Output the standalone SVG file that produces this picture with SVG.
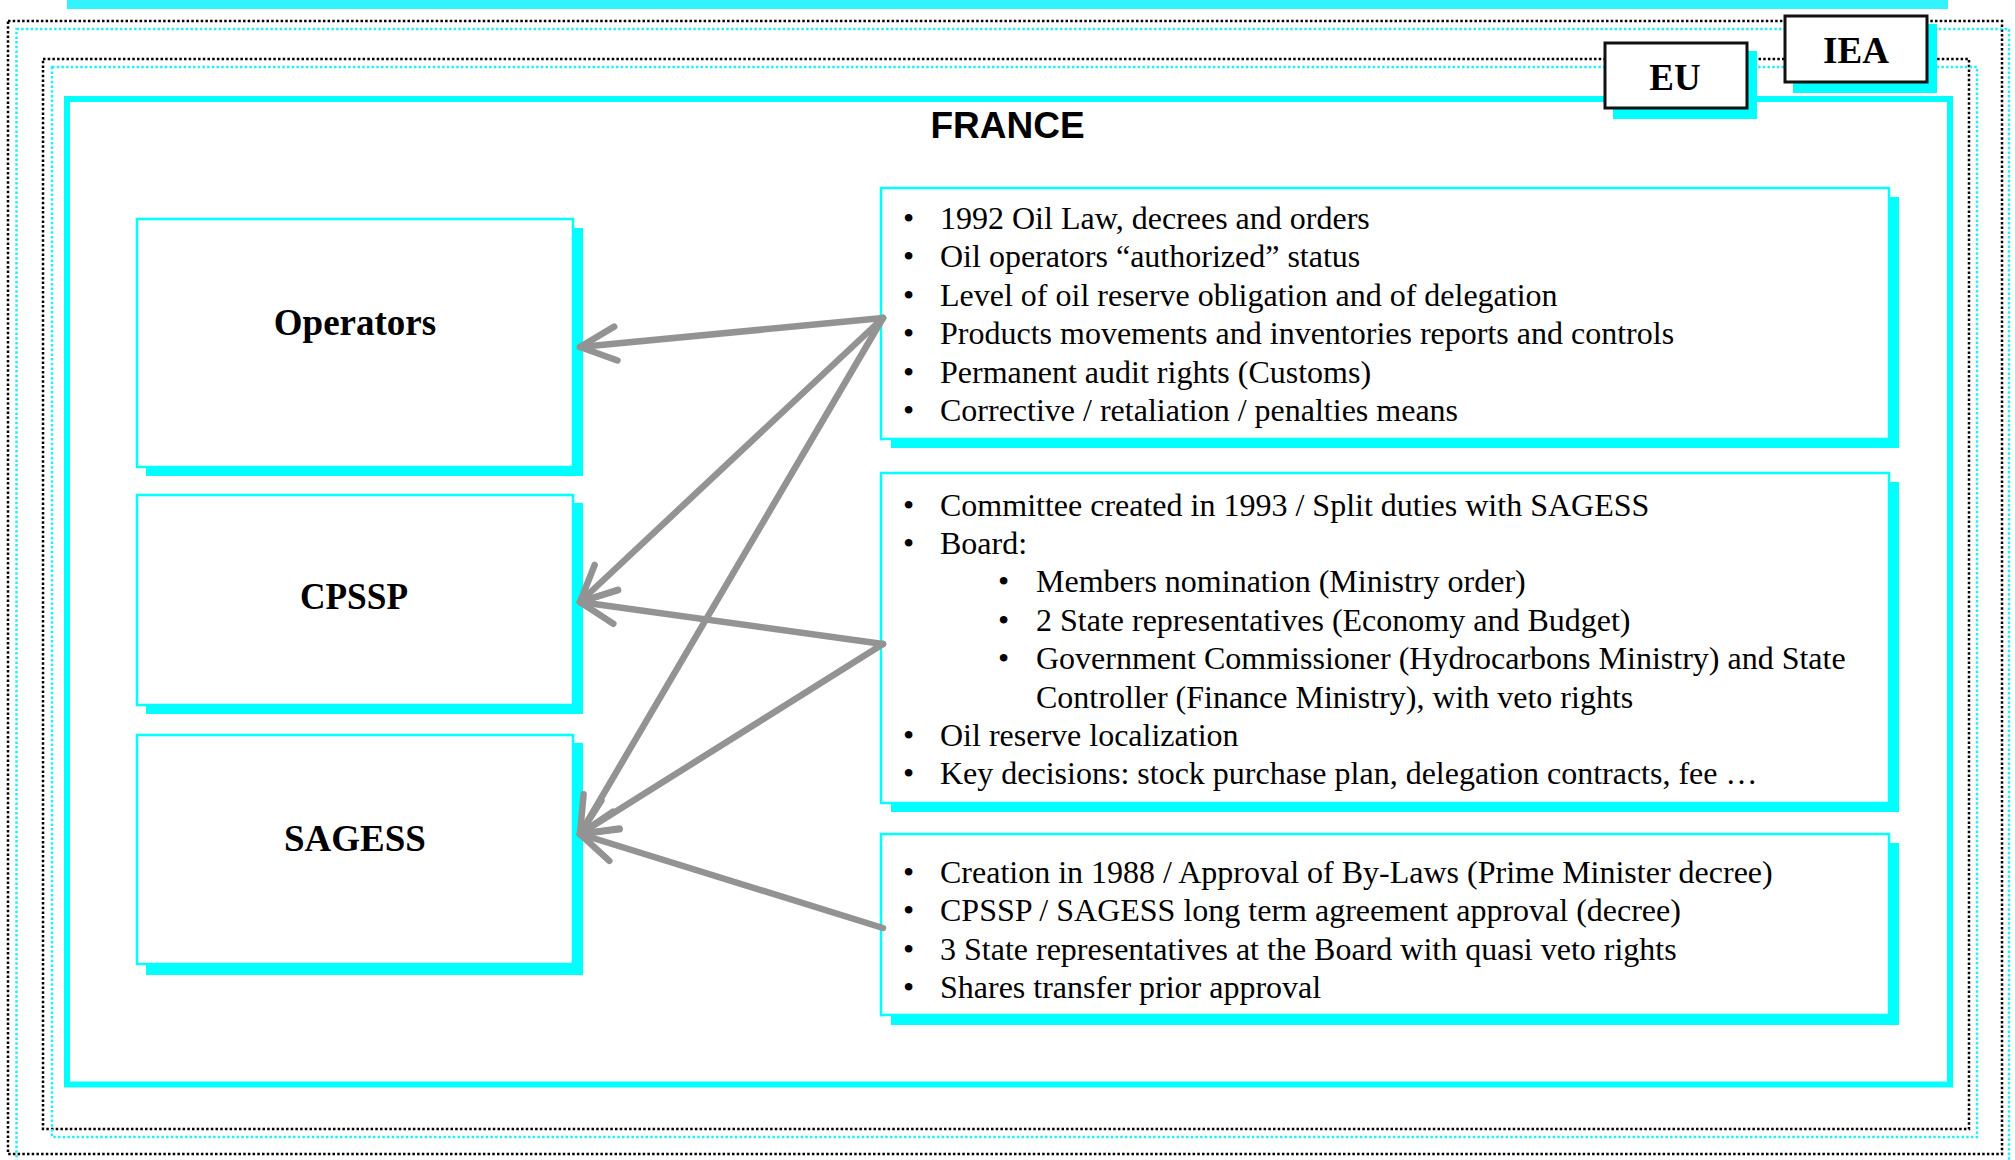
<svg xmlns="http://www.w3.org/2000/svg" width="2015" height="1160" viewBox="0 0 2015 1160">
  <style>
    .dotk { fill: none; stroke: #000000; stroke-width: 2.5; stroke-dasharray: 2.5 2.2; }
    .dotc { fill: none; stroke: #22EEFF; stroke-width: 2.5; stroke-dasharray: 2.5 2.2; }
    .shadow { fill: #00FFFF; stroke: none; }
    .box { fill: #FFFFFF; stroke: #00FFFF; stroke-width: 2.5; }
    .tag { fill: #FFFFFF; stroke: #111111; stroke-width: 3; }
    .label { font-family: "Liberation Serif", "Times New Roman", serif; font-weight: bold; font-size: 37px; fill: #000; text-anchor: middle; }
    .body { font-family: "Liberation Serif", "Times New Roman", serif; font-size: 32px; fill: #000; }
    .title { font-family: "Liberation Sans", Arial, sans-serif; font-weight: bold; font-size: 37px; fill: #000; text-anchor: middle; }
    .conn { fill: none; stroke: #939393; stroke-width: 6.5; stroke-linecap: round; marker-end: url(#arrow); }
  </style>
  <defs>
    <marker id="arrow" markerUnits="userSpaceOnUse" viewBox="-45 -25 52 50" markerWidth="52" markerHeight="50" refX="0" refY="0" orient="auto">
      <path d="M-36,-17 L0,0 L-36,17" fill="none" stroke="#939393" stroke-width="6.5" stroke-linecap="round" stroke-linejoin="round"/>
    </marker>
  </defs>
  <rect width="2015" height="1160" fill="#FFFFFF"/>

  <!-- frames -->
  <rect x="67" y="0" width="1881" height="9" fill="#33F3FF"/>
  <rect class="dotk" x="8" y="21" width="1994" height="1133"/>
  <rect class="dotc" x="16.5" y="29" width="1992.5" height="1145"/>
  <rect class="dotk" x="43" y="59" width="1926" height="1070"/>
  <rect class="dotc" x="52" y="67" width="1925" height="1070"/>

  <g id="france">
    <rect x="67" y="99" width="1883" height="985.5" fill="none" stroke="#00FFFF" stroke-width="6"/>
    <text class="title" x="1007.5" y="138">FRANCE</text>
  </g>

  <g id="eu">
    <rect class="shadow" x="1613" y="51" width="144" height="68"/>
    <rect class="tag" x="1605" y="43" width="142" height="65"/>
    <text class="label" x="1675" y="90">EU</text>
  </g>
  <g id="iea">
    <rect class="shadow" x="1793" y="24" width="144" height="69"/>
    <rect class="tag" x="1785" y="16" width="142" height="66"/>
    <text class="label" x="1856" y="63">IEA</text>
  </g>

  <g id="operators">
    <rect class="shadow" x="146" y="228" width="437" height="248"/>
    <rect class="box" x="137" y="219" width="436" height="248"/>
    <text class="label" x="355" y="335">Operators</text>
  </g>
  <g id="cpssp">
    <rect class="shadow" x="146" y="503" width="437" height="211"/>
    <rect class="box" x="137" y="495" width="436" height="210"/>
    <text class="label" x="354" y="609" textLength="108" lengthAdjust="spacingAndGlyphs">CPSSP</text>
  </g>
  <g id="sagess">
    <rect class="shadow" x="146" y="743" width="437" height="232"/>
    <rect class="box" x="137" y="735" width="436" height="229"/>
    <text class="label" x="355" y="851">SAGESS</text>
  </g>

  <g id="law-box">
    <rect class="shadow" x="891" y="197" width="1008" height="251"/>
    <rect class="box" x="881" y="188" width="1008" height="251"/>
    <g class="body">
      <text x="903" y="229">•</text><text x="940" y="229">1992 Oil Law, decrees and orders</text>
      <text x="903" y="267.4">•</text><text x="940" y="267.4">Oil operators “authorized” status</text>
      <text x="903" y="305.8">•</text><text x="940" y="305.8">Level of oil reserve obligation and of delegation</text>
      <text x="903" y="344.2">•</text><text x="940" y="344.2">Products movements and inventories reports and controls</text>
      <text x="903" y="382.6">•</text><text x="940" y="382.6">Permanent audit rights (Customs)</text>
      <text x="903" y="421">•</text><text x="940" y="421">Corrective / retaliation / penalties means</text>
    </g>
  </g>

  <g id="committee-box">
    <rect class="shadow" x="891" y="482" width="1008" height="330"/>
    <rect class="box" x="881" y="473" width="1008" height="330"/>
    <g class="body">
      <text x="903" y="515.5">•</text><text x="940" y="515.5">Committee created in 1993 / Split duties with SAGESS</text>
      <text x="903" y="553.9">•</text><text x="940" y="553.9">Board:</text>
      <text x="998" y="592.3">•</text><text x="1036" y="592.3">Members nomination (Ministry order)</text>
      <text x="998" y="630.7">•</text><text x="1036" y="630.7">2 State representatives (Economy and Budget)</text>
      <text x="998" y="669.1">•</text><text x="1036" y="669.1">Government Commissioner (Hydrocarbons Ministry) and State</text>
      <text x="1036" y="707.5">Controller (Finance Ministry), with veto rights</text>
      <text x="903" y="745.9">•</text><text x="940" y="745.9">Oil reserve localization</text>
      <text x="903" y="784.3">•</text><text x="940" y="784.3">Key decisions: stock purchase plan, delegation contracts, fee …</text>
    </g>
  </g>

  <g id="sagess-box">
    <rect class="shadow" x="891" y="843" width="1008" height="182"/>
    <rect class="box" x="881" y="834" width="1008" height="181"/>
    <g class="body">
      <text x="903" y="883">•</text><text x="940" y="883">Creation in 1988 / Approval of By-Laws (Prime Minister decree)</text>
      <text x="903" y="921.4">•</text><text x="940" y="921.4">CPSSP / SAGESS long term agreement approval (decree)</text>
      <text x="903" y="959.8">•</text><text x="940" y="959.8">3 State representatives at the Board with quasi veto rights</text>
      <text x="903" y="998.2">•</text><text x="940" y="998.2">Shares transfer prior approval</text>
    </g>
  </g>

  <g id="connectors">
    <line class="conn" x1="883" y1="318" x2="580" y2="347"/>
    <line class="conn" x1="883" y1="318" x2="580" y2="602"/>
    <line class="conn" x1="883" y1="318" x2="580" y2="834"/>
    <line class="conn" x1="883" y1="644" x2="580" y2="602"/>
    <line class="conn" x1="883" y1="644" x2="580" y2="834"/>
    <line class="conn" x1="883" y1="928" x2="580" y2="834"/>
  </g>
</svg>
